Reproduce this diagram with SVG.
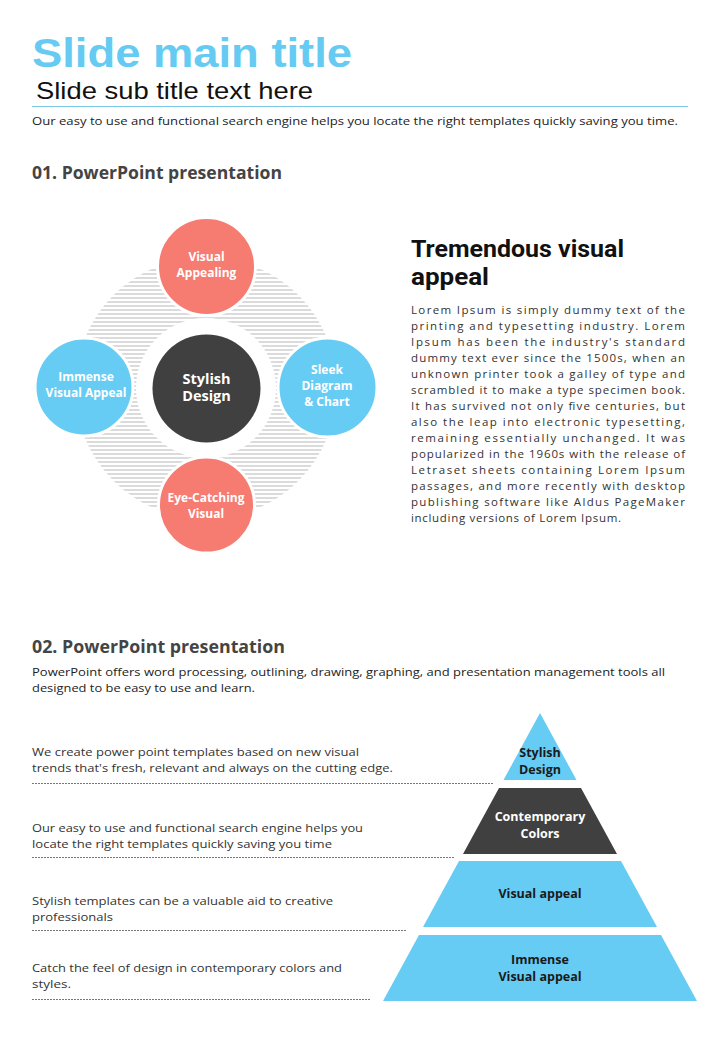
<svg xmlns="http://www.w3.org/2000/svg" width="720" height="1040" viewBox="0 0 720 1040">
  <style>
    .title { font-family: "Liberation Sans", Roboto, sans-serif; font-weight: 700; font-size: 40px; fill: #66cbf3; }
    .sub { font-family: "Liberation Sans", Roboto, sans-serif; font-size: 24px; fill: #111; }
    .body { font-family: "Open Sans", "Liberation Sans", sans-serif; font-size: 11.5px; fill: #333; }
    .h2 { font-family: "Open Sans", "Liberation Sans", sans-serif; font-weight: 700; font-size: 18px; fill: #444; }
    .h3 { font-family: Roboto, "Liberation Sans", sans-serif; font-weight: 700; font-size: 23px; fill: #111; }
    .lbl { font-family: "Open Sans", "Liberation Sans", sans-serif; font-weight: 700; font-size: 12px; fill: #fff; text-anchor: middle; }
    .lblc { font-family: "Open Sans", "Liberation Sans", sans-serif; font-weight: 700; font-size: 14.5px; fill: #fff; text-anchor: middle; }
    .plbl { font-family: "Open Sans", "Liberation Sans", sans-serif; font-weight: 700; font-size: 12.5px; fill: #1a1a1a; text-anchor: middle; }
    .coral { fill: #f67b71; stroke: #fff; stroke-width: 3; }
    .blue { fill: #67ccf4; stroke: #fff; stroke-width: 3; }
    .dark { fill: #404040; }
    .pblue { fill: #67ccf4; }
    .dash { stroke: #555; stroke-width: 0.8; stroke-dasharray: 2 1; fill: none; }
  </style>
  <defs>
    <pattern id="hatch" x="0" y="0" width="10" height="4" patternUnits="userSpaceOnUse">
      <rect x="0" y="1.5" width="10" height="1" fill="#b8b8b8"/>
    </pattern>
  </defs>
  <rect width="720" height="1040" fill="#fff"/>

  <g id="header">
    <text class="title" x="32" y="66.5" textLength="320" lengthAdjust="spacingAndGlyphs">Slide main title</text>
    <text class="sub" x="36" y="98.5" textLength="277" lengthAdjust="spacingAndGlyphs">Slide sub title text here</text>
    <line x1="32" y1="106.5" x2="688" y2="106.5" stroke="#7cc8e8" stroke-width="1"/>
    <text class="body" x="32" y="125" textLength="646" lengthAdjust="spacingAndGlyphs" style="fill:#222">Our easy to use and functional search engine  helps you locate the right templates quickly saving you time.</text>
  </g>

  <g id="section1-title">
    <text class="h2" x="32" y="179" textLength="250" lengthAdjust="spacingAndGlyphs">01. PowerPoint presentation</text>
  </g>

  <g id="hatch-bg">
    <circle cx="206" cy="388" r="131" fill="url(#hatch)"/>
    <circle cx="206" cy="388" r="70" fill="#fff"/>
  </g>

  <g id="node-center">
    <circle class="dark" cx="206.5" cy="388.5" r="54"/>
    <text class="lblc" x="206.5" y="384">Stylish</text>
    <text class="lblc" x="206.5" y="401">Design</text>
  </g>
  <g id="node-top">
    <circle class="coral" cx="206.5" cy="266.5" r="49"/>
    <text class="lbl" x="206.5" y="261">Visual</text>
    <text class="lbl" x="206.5" y="277">Appealing</text>
  </g>
  <g id="node-left">
    <circle class="blue" cx="84" cy="387" r="49"/>
    <text class="lbl" x="86" y="381">Immense</text>
    <text class="lbl" x="86" y="397">Visual Appeal</text>
  </g>
  <g id="node-right">
    <circle class="blue" cx="327.5" cy="387.5" r="49.5"/>
    <text class="lbl" x="327" y="374">Sleek</text>
    <text class="lbl" x="327" y="390">Diagram</text>
    <text class="lbl" x="327" y="406">&amp; Chart</text>
  </g>
  <g id="node-bottom">
    <circle class="coral" cx="206.5" cy="505" r="48"/>
    <text class="lbl" x="206" y="502">Eye-Catching</text>
    <text class="lbl" x="206" y="518">Visual</text>
  </g>

  <g id="tremendous">
    <text class="h3" x="411" y="257" textLength="213" lengthAdjust="spacingAndGlyphs">Tremendous visual</text>
    <text class="h3" x="411" y="285" textLength="78" lengthAdjust="spacingAndGlyphs">appeal</text>
    <text class="body" x="411" y="314" textLength="274" lengthAdjust="spacing">Lorem Ipsum is simply dummy text of the</text>
    <text class="body" x="411" y="330" textLength="274" lengthAdjust="spacing">printing and typesetting industry. Lorem</text>
    <text class="body" x="411" y="346" textLength="274" lengthAdjust="spacing">Ipsum has been the industry's standard</text>
    <text class="body" x="411" y="362" textLength="274" lengthAdjust="spacing">dummy text ever since the 1500s, when an</text>
    <text class="body" x="411" y="378" textLength="274" lengthAdjust="spacing">unknown printer took a galley of type and</text>
    <text class="body" x="411" y="394" textLength="274" lengthAdjust="spacing">scrambled it to make a type specimen book.</text>
    <text class="body" x="411" y="410" textLength="274" lengthAdjust="spacing">It has survived not only five centuries, but</text>
    <text class="body" x="411" y="426" textLength="274" lengthAdjust="spacing">also the leap into electronic typesetting,</text>
    <text class="body" x="411" y="442" textLength="274" lengthAdjust="spacing">remaining essentially unchanged. It was</text>
    <text class="body" x="411" y="458" textLength="274" lengthAdjust="spacing">popularized in the 1960s with the release of</text>
    <text class="body" x="411" y="474" textLength="274" lengthAdjust="spacing">Letraset sheets containing Lorem Ipsum</text>
    <text class="body" x="411" y="490" textLength="274" lengthAdjust="spacing">passages, and more recently with desktop</text>
    <text class="body" x="411" y="506" textLength="274" lengthAdjust="spacing">publishing software like Aldus PageMaker</text>
    <text class="body" x="411" y="522" textLength="210" lengthAdjust="spacing">including versions of Lorem Ipsum.</text>
  </g>

  <g id="section2-title">
    <text class="h2" x="32" y="653" textLength="253" lengthAdjust="spacingAndGlyphs">02. PowerPoint presentation</text>
    <text class="body" x="32" y="676" textLength="633" lengthAdjust="spacingAndGlyphs" style="fill:#222">PowerPoint offers word processing, outlining, drawing, graphing, and presentation management tools all</text>
    <text class="body" x="32" y="692" textLength="223" lengthAdjust="spacingAndGlyphs" style="fill:#222">designed to be easy to use and learn.</text>
  </g>

  <g id="list-items">
    <text class="body" x="32" y="756" textLength="327" lengthAdjust="spacingAndGlyphs">We create power point templates based on new visual</text>
    <text class="body" x="32" y="772" textLength="361" lengthAdjust="spacingAndGlyphs">trends that's fresh, relevant and always on the cutting edge.</text>
    <text class="body" x="32" y="832" textLength="331" lengthAdjust="spacingAndGlyphs">Our easy to use and functional search engine helps you</text>
    <text class="body" x="32" y="848" textLength="300" lengthAdjust="spacingAndGlyphs">locate the right templates quickly saving you time</text>
    <text class="body" x="32" y="905" textLength="301" lengthAdjust="spacingAndGlyphs">Stylish templates can be a valuable aid to creative</text>
    <text class="body" x="32" y="921" textLength="81" lengthAdjust="spacingAndGlyphs">professionals</text>
    <text class="body" x="32" y="972" textLength="310" lengthAdjust="spacingAndGlyphs">Catch the feel of design in contemporary colors and</text>
    <text class="body" x="32" y="988" textLength="39" lengthAdjust="spacingAndGlyphs">styles.</text>
  </g>

  <g id="connectors">
    <line class="dash" x1="32" y1="783.5" x2="493" y2="783.5"/>
    <line class="dash" x1="32" y1="857.5" x2="455" y2="857.5"/>
    <line class="dash" x1="32" y1="930.5" x2="407" y2="930.5"/>
    <line class="dash" x1="32" y1="999.5" x2="371" y2="999.5"/>
  </g>

  <g id="pyramid-tier1">
    <polygon class="pblue" points="540,713 576.5,780 503.5,780"/>
    <text class="plbl" x="540" y="757">Stylish</text>
    <text class="plbl" x="540" y="774">Design</text>
  </g>
  <g id="pyramid-tier2">
    <polygon class="dark" points="499,788 581,788 617,854 463,854"/>
    <text class="plbl" x="540" y="821" style="fill:#fff">Contemporary</text>
    <text class="plbl" x="540" y="838" style="fill:#fff">Colors</text>
  </g>
  <g id="pyramid-tier3">
    <polygon class="pblue" points="459,861 621,861 657,927 423,927"/>
    <text class="plbl" x="540" y="898">Visual appeal</text>
  </g>
  <g id="pyramid-tier4">
    <polygon class="pblue" points="419,935 661,935 697,1001 383,1001"/>
    <text class="plbl" x="540" y="964">Immense</text>
    <text class="plbl" x="540" y="981">Visual appeal</text>
  </g>
</svg>
